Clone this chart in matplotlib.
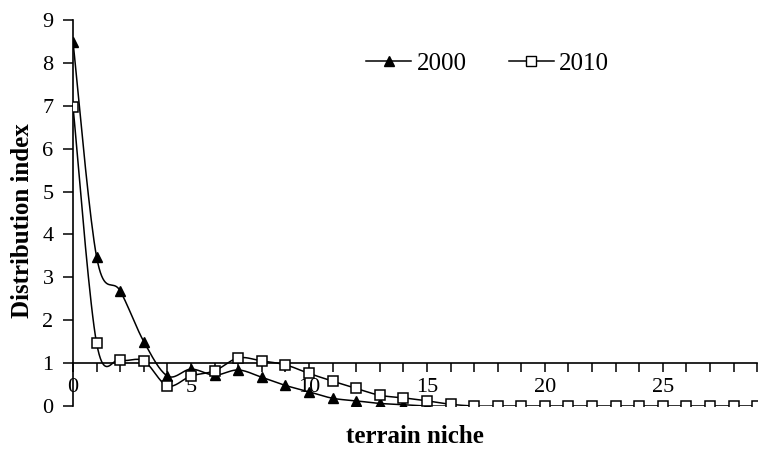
import numpy as np
import matplotlib.pyplot as plt

plt.rcParams['font.family'] = ['Liberation Serif', 'DejaVu Serif']

# terrain niche grades and distribution index per year
niche_2000 = list(range(0, 17))
index_2000 = [8.48, 3.47, 2.68, 1.5, 0.7, 0.86, 0.72, 0.84, 0.67, 0.48, 0.33,
              0.18, 0.12, 0.06, 0.03, 0.0, 0.0]
niche_2010 = list(range(0, 30))
index_2010 = [6.97, 1.46, 1.08, 1.05, 0.47, 0.7, 0.82, 1.12, 1.05, 0.96, 0.76,
              0.58, 0.41, 0.25, 0.19, 0.12, 0.04] + [0.0] * 13

x_ticks = [0, 5, 10, 15, 20, 25]
y_ticks = list(range(0, 10))


def smooth(x, y, steps=20):
    # spreadsheet-style smoothed line: cubic Bezier through each point,
    # control points taken from the neighbouring points
    x = np.asarray(x, float)
    y = np.asarray(y, float)
    px = np.concatenate([[x[0]], x, [x[-1]]])
    py = np.concatenate([[y[0]], y, [y[-1]]])
    t = np.linspace(0, 1, steps)[:, None]
    xs, ys = [], []
    for i in range(1, len(px) - 2):
        p0 = np.array([px[i], py[i]])
        p3 = np.array([px[i + 1], py[i + 1]])
        c1 = p0 + (p3 - np.array([px[i - 1], py[i - 1]])) / 6
        c2 = p3 - (np.array([px[i + 2], py[i + 2]]) - p0) / 6
        pts = ((1 - t) ** 3) * p0 + 3 * ((1 - t) ** 2) * t * c1 \
            + 3 * (1 - t) * t ** 2 * c2 + t ** 3 * p3
        xs.append(pts[:, 0])
        ys.append(pts[:, 1])
    return np.concatenate(xs), np.concatenate(ys)


fig = plt.figure(figsize=(7.61, 4.49), dpi=100)
ax = fig.add_axes([0.096, 0.0958, 0.899, 0.8597])

sx, sy = smooth(niche_2000, index_2000)
ax.plot(sx, sy, color='black', lw=1.1, zorder=3)
ax.plot(niche_2000, index_2000, ls='none', marker='^', ms=7,
        color='black', zorder=4)
sx, sy = smooth(niche_2010, index_2010)
ax.plot(sx, sy, color='black', lw=1.1, zorder=5)
ax.plot(niche_2010, index_2010, ls='none', marker='s', ms=7,
        mfc='white', mec='black', mew=1.1, zorder=6)

ax.set_xlim(0, 29)
ax.set_ylim(0, 9)
ax.spines['top'].set_visible(False)
ax.spines['right'].set_visible(False)
ax.spines['bottom'].set_position(('data', 1))
ax.spines['bottom'].set_linewidth(1.2)
ax.spines['left'].set_linewidth(1.2)

ax.set_xticks(x_ticks)
ax.set_xticks(range(0, 30), minor=True)
ax.tick_params(axis='x', which='both', direction='out', length=6.5, width=1.1,
               labelsize=16, pad=4.5)
ax.set_yticks(y_ticks)
ax.tick_params(axis='y', direction='out', length=7, width=1.1, labelsize=16, pad=7)

fig.text(0.030, 0.508, 'Distribution index', rotation=90, ha='center',
         va='center', fontsize=18, fontweight='bold')
fig.text(0.545, 0.027, 'terrain niche', ha='center', va='center',
         fontsize=18, fontweight='bold')

# legend drawn in a single row without frame
h1, = ax.plot([], [], color='black', lw=1.1, marker='^', ms=7)
h2, = ax.plot([], [], color='black', lw=1.1, marker='s', ms=7,
              mfc='white', mec='black')
ax.legend([h1, h2], ['2000', '2010'], ncol=2, frameon=False, fontsize=18,
          loc='center', bbox_to_anchor=(0.606, 0.886), handlelength=1.8,
          columnspacing=1.7, handletextpad=0.2)

fig.savefig('out.png', dpi=100)
